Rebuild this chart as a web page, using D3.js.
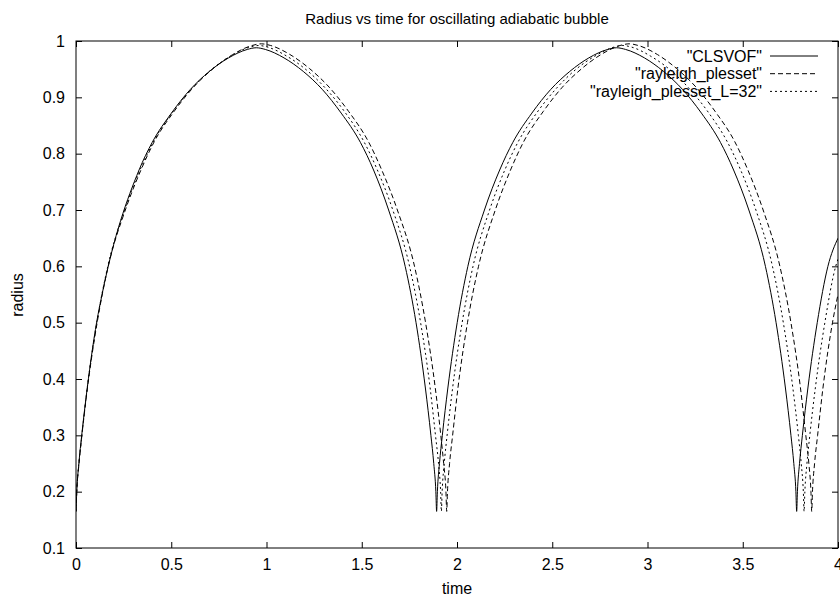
<!DOCTYPE html>
<html>
<head>
<meta charset="utf-8">
<script src="https://cdn.jsdelivr.net/npm/d3@7"></script>
<style>
  body { margin: 0; background: #fff; }
  svg { display: block; font-family: "Liberation Sans", Arial, Helvetica, sans-serif; }
</style>
</head>
<body>
<svg id="chart" width="840" height="597"></svg>
<script>
// values: [time, radius]
const clsvof = [
  [0, 0.165], [0.004, 0.20], [0.015, 0.25], [0.030, 0.30], [0.059, 0.384], [0.108, 0.50],
  [0.138, 0.552], [0.331, 0.771], [0.400, 0.82], [0.501, 0.872], [0.600, 0.914], [0.700, 0.946],
  [0.801, 0.970], [0.899, 0.985], [0.9465, 0.988],
  [0.994, 0.985], [1.092, 0.970], [1.193, 0.946], [1.293, 0.914], [1.392, 0.872], [1.493, 0.82],
  [1.562, 0.771], [1.641, 0.70], [1.728, 0.60], [1.785, 0.50], [1.834, 0.384], [1.863, 0.30],
  [1.878, 0.25], [1.889, 0.20], [1.893, 0.165],
  [1.897, 0.20], [1.908, 0.25], [1.923, 0.30], [1.952, 0.384], [2.001, 0.50], [2.057, 0.60],
  [2.144, 0.70], [2.224, 0.771], [2.293, 0.82], [2.393, 0.872], [2.492, 0.914], [2.592, 0.946],
  [2.692, 0.970], [2.791, 0.985], [2.838, 0.988],
  [2.885, 0.985], [2.984, 0.970], [3.084, 0.946], [3.184, 0.914], [3.283, 0.872], [3.383, 0.82],
  [3.452, 0.771], [3.532, 0.70], [3.619, 0.60], [3.675, 0.50], [3.724, 0.384], [3.753, 0.30],
  [3.768, 0.25], [3.779, 0.20], [3.783, 0.165],
  [3.787, 0.20], [3.798, 0.25], [3.813, 0.30], [3.842, 0.384], [3.891, 0.50], [3.947, 0.60],
  [4.0, 0.65]
];

const rayleighPlesset = [
  [0, 0.165], [0.004, 0.20], [0.016, 0.25], [0.031, 0.30], [0.060, 0.384], [0.111, 0.50],
  [0.169, 0.60], [0.259, 0.70], [0.341, 0.771], [0.412, 0.822], [0.515, 0.875], [0.617, 0.918],
  [0.720, 0.951], [0.823, 0.976], [0.924, 0.992], [0.973, 0.995],
  [1.022, 0.992], [1.123, 0.976], [1.226, 0.951], [1.329, 0.918], [1.431, 0.875], [1.534, 0.822],
  [1.605, 0.771], [1.687, 0.70], [1.777, 0.60], [1.835, 0.50], [1.886, 0.384], [1.915, 0.30],
  [1.930, 0.25], [1.942, 0.20], [1.946, 0.165],
  [1.950, 0.20], [1.961, 0.25], [1.977, 0.30], [2.005, 0.384], [2.055, 0.50], [2.113, 0.60],
  [2.201, 0.70], [2.281, 0.771], [2.351, 0.822], [2.453, 0.875], [2.553, 0.918], [2.655, 0.951],
  [2.756, 0.976], [2.856, 0.992], [2.904, 0.995],
  [2.952, 0.992], [3.052, 0.976], [3.153, 0.951], [3.255, 0.918], [3.355, 0.875], [3.457, 0.822],
  [3.527, 0.771], [3.607, 0.70], [3.695, 0.60], [3.753, 0.50], [3.803, 0.384], [3.831, 0.30],
  [3.847, 0.25], [3.858, 0.20], [3.862, 0.165],
  [3.866, 0.20], [3.877, 0.25], [3.893, 0.30], [3.921, 0.384], [3.971, 0.50], [4.0, 0.55]
];

const rayleighPlessetL32 = [
  [0, 0.165], [0.004, 0.20], [0.015, 0.25], [0.031, 0.30], [0.059, 0.384], [0.109, 0.50],
  [0.167, 0.60], [0.255, 0.70], [0.336, 0.771], [0.406, 0.821], [0.507, 0.874], [0.608, 0.916],
  [0.710, 0.949], [0.811, 0.973], [0.911, 0.989], [0.959, 0.992],
  [1.007, 0.989], [1.107, 0.973], [1.208, 0.949], [1.310, 0.916], [1.411, 0.874], [1.512, 0.821],
  [1.582, 0.771], [1.663, 0.70], [1.751, 0.60], [1.809, 0.50], [1.859, 0.384], [1.887, 0.30],
  [1.903, 0.25], [1.914, 0.20], [1.918, 0.165],
  [1.922, 0.20], [1.933, 0.25], [1.948, 0.30], [1.977, 0.384], [2.027, 0.50], [2.084, 0.60],
  [2.171, 0.70], [2.251, 0.771], [2.321, 0.821], [2.422, 0.874], [2.522, 0.916], [2.622, 0.949],
  [2.723, 0.973], [2.822, 0.989], [2.870, 0.992],
  [2.918, 0.989], [3.017, 0.973], [3.118, 0.949], [3.218, 0.916], [3.318, 0.874], [3.419, 0.821],
  [3.489, 0.771], [3.569, 0.70], [3.656, 0.60], [3.713, 0.50], [3.763, 0.384], [3.792, 0.30],
  [3.807, 0.25], [3.818, 0.20], [3.822, 0.165],
  [3.826, 0.20], [3.837, 0.25], [3.852, 0.30], [3.881, 0.384], [3.931, 0.50], [3.988, 0.60],
  [4.0, 0.613]
];

const seriesNames = ['"CLSVOF"', '"rayleigh_plesset"', '"rayleigh_plesset_L=32"'];
const xTicks = [0, 0.5, 1, 1.5, 2, 2.5, 3, 3.5, 4];
const yTicks = [0.1, 0.2, 0.3, 0.4, 0.5, 0.6, 0.7, 0.8, 0.9, 1];

const svg = d3.select('#chart');
const margin = { top: 41, right: 2, bottom: 49, left: 76 };
const W = 840, H = 597;

const x = d3.scaleLinear().domain([0, 4]).range([margin.left, W - margin.right]);
const y = d3.scaleLinear().domain([0.1, 1]).range([H - margin.bottom, margin.top]);

const series = [
  { name: seriesNames[0], data: clsvof, dash: null },
  { name: seriesNames[1], data: rayleighPlesset, dash: '5,3' },
  { name: seriesNames[2], data: rayleighPlessetL32, dash: '2,3' }
];

// title + axis titles
svg.append('text')
  .attr('x', 457).attr('y', 24)
  .attr('text-anchor', 'middle')
  .attr('font-size', 15)
  .text('Radius vs time for oscillating adiabatic bubble');

svg.append('text')
  .attr('x', 457).attr('y', 594)
  .attr('text-anchor', 'middle')
  .attr('font-size', 16)
  .text('time');

svg.append('text')
  .attr('transform', 'translate(23,295) rotate(-90)')
  .attr('text-anchor', 'middle')
  .attr('font-size', 16)
  .text('radius');

// axes, ticks pointing inward (gnuplot style)
const fmt = d => d3.format('')(+d.toFixed(1));

const gx = svg.append('g')
  .attr('transform', `translate(0,${y.range()[0]})`)
  .call(d3.axisBottom(x).tickValues(xTicks).tickSize(-6).tickPadding(11).tickFormat(fmt));
const gy = svg.append('g')
  .attr('transform', `translate(${x.range()[0]},0)`)
  .call(d3.axisLeft(y).tickValues(yTicks).tickSize(-6).tickPadding(11).tickFormat(fmt));
const gxTop = svg.append('g')
  .attr('transform', `translate(0,${y.range()[1]})`)
  .call(d3.axisTop(x).tickValues(xTicks).tickSize(-6).tickFormat(''));
const gyRight = svg.append('g')
  .attr('transform', `translate(${x.range()[1]},0)`)
  .call(d3.axisRight(y).tickValues(yTicks).tickSize(-6).tickFormat(''));

[gx, gy, gxTop, gyRight].forEach(g => {
  g.select('.domain').remove();
  g.selectAll('.tick line').attr('stroke', '#000').attr('stroke-width', 1);
  g.selectAll('text')
    .attr('fill', '#000')
    .attr('font-size', 16)
    .attr('font-family', '"Liberation Sans", Arial, Helvetica, sans-serif');
});

// plot border
svg.append('rect')
  .attr('x', x.range()[0]).attr('y', y.range()[1])
  .attr('width', x.range()[1] - x.range()[0])
  .attr('height', y.range()[0] - y.range()[1])
  .attr('fill', 'none')
  .attr('stroke', '#000')
  .attr('stroke-width', 1);

svg.append('clipPath').attr('id', 'plot-clip')
  .append('rect')
  .attr('x', x.range()[0]).attr('y', y.range()[1])
  .attr('width', x.range()[1] - x.range()[0])
  .attr('height', y.range()[0] - y.range()[1]);

const line = d3.line()
  .x(d => x(d[0]))
  .y(d => y(d[1]))
  .curve(d3.curveMonotoneX);

svg.append('g')
  .attr('clip-path', 'url(#plot-clip)')
  .selectAll('path')
  .data(series)
  .join('path')
  .attr('d', d => line(d.data))
  .attr('fill', 'none')
  .attr('stroke', '#000')
  .attr('stroke-width', 1)
  .attr('stroke-dasharray', d => d.dash);

// legend, top right inside the frame
const legend = svg.append('g');
series.forEach((s, i) => {
  const ly = 56 + i * 17.7;
  legend.append('text')
    .attr('x', 762).attr('y', ly)
    .attr('dy', '0.35em')
    .attr('text-anchor', 'end')
    .attr('font-size', 16)
    .text(s.name);
  legend.append('line')
    .attr('x1', 770).attr('x2', 818)
    .attr('y1', ly).attr('y2', ly)
    .attr('stroke', '#000')
    .attr('stroke-width', 1)
    .attr('stroke-dasharray', s.dash);
});
</script>
</body>
</html>
